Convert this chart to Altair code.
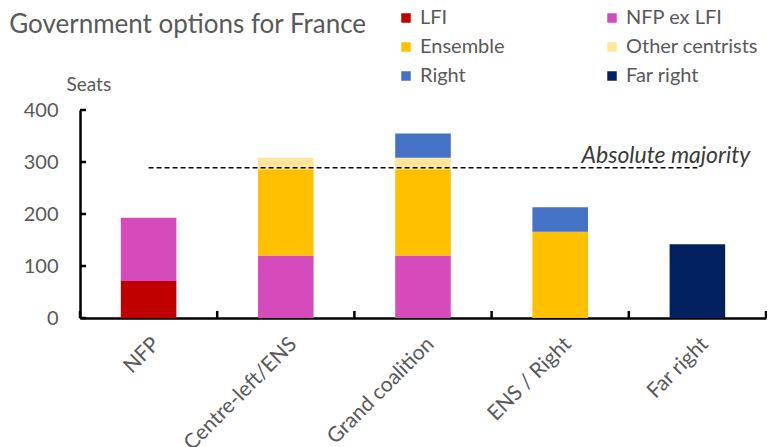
import altair as alt
import pandas as pd

categories = ["NFP", "Centre-left/ENS", "Grand coalition", "ENS / Right", "Far right"]
series_names = ["LFI", "NFP ex LFI", "Ensemble", "Other centrists", "Right", "Far right"]
lfi = [71, 0, 0, 0, 0]
nfp_ex_lfi = [122, 120, 120, 0, 0]
ensemble = [0, 166, 166, 166, 0]
other_centrists = [0, 22, 22, 0, 0]
right = [0, 0, 47, 47, 0]
far_right = [0, 0, 0, 0, 142]
series_values = [lfi, nfp_ex_lfi, ensemble, other_centrists, right, far_right]
colors = ["#C00000", "#D54BBB", "#FFC000", "#FFE699", "#4472C4", "#002060"]
majority = 289
majority_label = "Absolute majority"
y_ticks = [0, 100, 200, 300, 400]

rows = []
for i, (name, vals) in enumerate(zip(series_names, series_values)):
    for c, v in zip(categories, vals):
        if v > 0:
            rows.append({"option": c, "party": name, "seats": v, "order": i})
df = pd.DataFrame(rows)

W, H = 686, 208
FONT = "Lato"
GREY = "#595959"

xscale = alt.Scale(domain=categories, paddingInner=0, paddingOuter=0)
yscale = alt.Scale(domain=[0, 400], nice=False)

bars = alt.Chart(df).mark_bar(width=alt.RelativeBandSize(0.405)).encode(
    x=alt.X("option:N", scale=xscale, sort=categories,
            axis=alt.Axis(title=None, labelAngle=-45, labelFontSize=21, labelColor=GREY,
                          labelFont=FONT, ticks=False, domainColor="#000", domainWidth=2.5,
                          labelPadding=15)),
    y=alt.Y("seats:Q", stack="zero", scale=yscale,
            axis=alt.Axis(values=y_ticks, title="Seats", titleAngle=0, titleX=-14, titleY=-26,
                          titleAlign="left", titleBaseline="middle", titleFontSize=19,
                          titleFontWeight="normal", titleColor=GREY, titleFont=FONT,
                          labelFontSize=20, labelColor=GREY, labelFont=FONT,
                          ticks=False, domainColor="#000", domainWidth=2.5,
                          labelPadding=22, grid=False)),
    color=alt.Color("party:N", scale=alt.Scale(domain=series_names, range=colors),
                    legend=alt.Legend(title=None, orient="none", legendX=316, legendY=-102,
                                      columns=2, direction="horizontal",
                                      columnPadding=97, rowPadding=9,
                                      symbolType="square", symbolSize=90, symbolStrokeWidth=0,
                                      labelFontSize=20, labelColor=GREY, labelFont=FONT,
                                      labelOffset=4, padding=0, labelLimit=300)),
    order=alt.Order("order:Q", sort="ascending"),
)

maj_df = pd.DataFrame({"start": [categories[0]], "end": [categories[-1]], "seats": [majority],
                       "label": [majority_label]})
maj_line = alt.Chart(maj_df).mark_rule(strokeDash=[5, 3], color="#000", strokeWidth=1.5).encode(
    x=alt.X("start:N", scale=xscale, sort=categories),
    x2="end:N",
    y=alt.Y("seats:Q", scale=yscale),
)
maj_text = alt.Chart(maj_df).mark_text(align="right", baseline="alphabetic", dx=53, dy=-5,
                                       fontSize=23, fontStyle="italic", font=FONT,
                                       color="#3a3a3a").encode(
    x=alt.X("end:N", scale=xscale, sort=categories),
    y=alt.Y("seats:Q", scale=yscale),
    text="label:N",
)

ytick_df = pd.DataFrame({"v": y_ticks})
yticks = alt.Chart(ytick_df).mark_rule(color="#000", strokeWidth=2.5).encode(
    y=alt.Y("v:Q", scale=yscale), x=alt.value(0), x2=alt.value(6))

xtick_df = pd.DataFrame({"option": categories})
xticks = alt.Chart(xtick_df).mark_rule(color="#000", strokeWidth=2.5).encode(
    x=alt.X("option:N", scale=xscale, sort=categories, bandPosition=0),
    y=alt.value(H), y2=alt.value(H - 7))
xtick_end = alt.Chart(pd.DataFrame({"option": [categories[-1]]})).mark_rule(
    color="#000", strokeWidth=2.5).encode(
    x=alt.X("option:N", scale=xscale, sort=categories, bandPosition=1),
    y=alt.value(H), y2=alt.value(H - 7))

chart = alt.layer(bars, maj_line, maj_text, yticks, xticks, xtick_end).properties(
    width=W, height=H,
    autosize=alt.AutoSizeParams(type="none"),
    padding={"left": 72, "top": 102, "right": 1, "bottom": 129},
    title=alt.TitleParams("Government options for France", anchor="start", fontSize=26,
                          font=FONT, color=GREY, fontWeight="normal", dx=-14, dy=34),
).configure(font=FONT).configure_view(stroke=None)

chart.save("out.html", embed_options={"renderer": "svg", "actions": False})
